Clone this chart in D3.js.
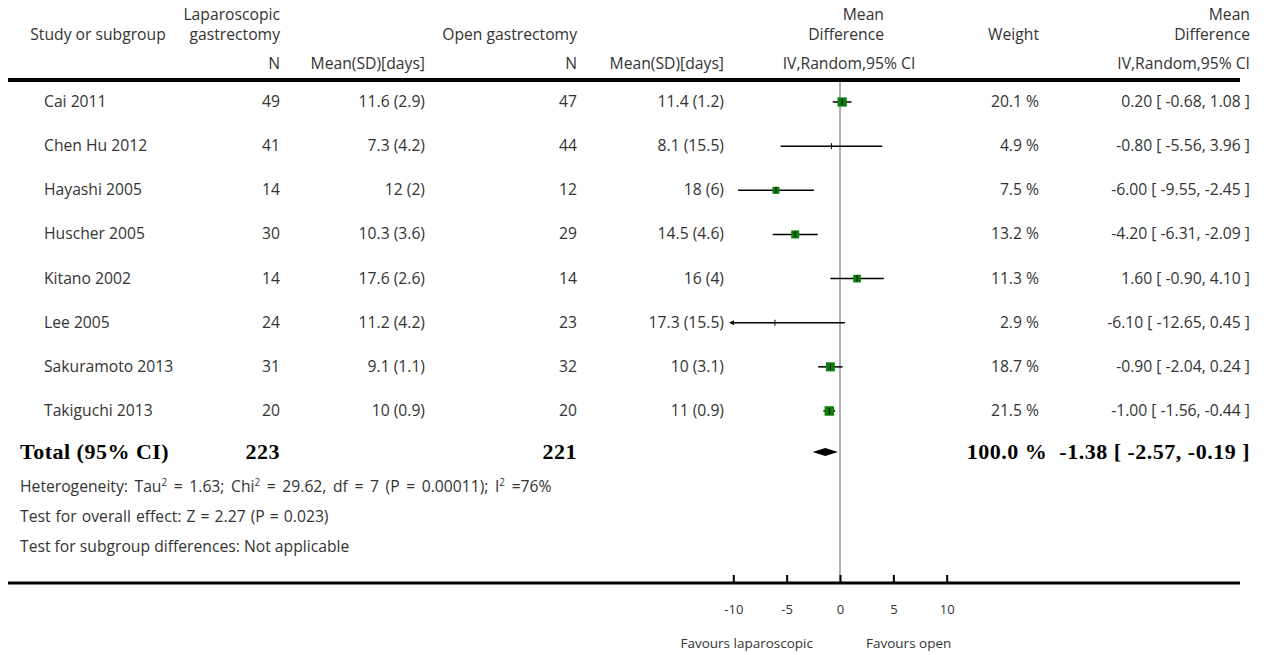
<!DOCTYPE html>
<html>
<head>
<meta charset="utf-8">
<script src="https://cdn.jsdelivr.net/npm/d3@7"></script>
<style>
  body { margin: 0; background: #fff; }
  text { font-family: "Open Sans", Lato, sans-serif; fill: #333; }
  .bold { font-family: "Liberation Serif", "DejaVu Serif", serif; font-weight: bold; fill: #000; white-space: pre; }
</style>
</head>
<body>
<div id="chart"></div>
<script>
// study data
const studies = ['Cai 2011', 'Chen Hu 2012', 'Hayashi 2005', 'Huscher 2005', 'Kitano 2002', 'Lee 2005', 'Sakuramoto 2013', 'Takiguchi 2013'];
const lapN = [49, 41, 14, 30, 14, 24, 31, 20];
const lapMean = [11.6, 7.3, 12, 10.3, 17.6, 11.2, 9.1, 10];
const lapSD = [2.9, 4.2, 2, 3.6, 2.6, 4.2, 1.1, 0.9];
const openN = [47, 44, 12, 29, 14, 23, 32, 20];
const openMean = [11.4, 8.1, 18, 14.5, 16, 17.3, 10, 11];
const openSD = [1.2, 15.5, 6, 4.6, 4, 15.5, 3.1, 0.9];
const md = [0.20, -0.80, -6.00, -4.20, 1.60, -6.10, -0.90, -1.00];
const ciLow = [-0.68, -5.56, -9.55, -6.31, -0.90, -12.65, -2.04, -1.56];
const ciHigh = [1.08, 3.96, -2.45, -2.09, 4.10, 0.45, 0.24, -0.44];
const weights = [20.1, 4.9, 7.5, 13.2, 11.3, 2.9, 18.7, 21.5];

const totalN = [223, 221];
const totalMD = [-1.38, -2.57, -0.19];
const axisTicks = [-10, -5, 0, 5, 10];

const W = 1266, H = 655;
const svg = d3.select('#chart').append('svg')
    .attr('width', W)
    .attr('height', H);

const x = d3.scaleLinear().domain([-10, 10]).range([733.3, 946.7]);
const y = d3.scalePoint().domain(studies).range([102, 411]);
const box = d3.scaleLinear().domain([4.9, 7.5, 21.5]).range([0, 7, 9.5]).clamp(true);

// column right edges
const col = { n1: 280, m1: 425, n2: 577, m2: 724, w: 1039, ci: 1250 };
const FS = 15.7;

function txt(xp, yp, s, anchor, size) {
    return svg.append('text')
        .attr('x', xp).attr('y', yp)
        .attr('text-anchor', anchor || 'end')
        .style('font-size', (size || FS) + 'px')
        .text(s);
}

// hyphen minus, as in the original
const f2 = v => v.toFixed(2);

// header
txt(98, 40, 'Study or subgroup', 'middle');
txt(col.n1, 20, 'Laparoscopic');
txt(col.n1, 40, 'gastrectomy');
txt(col.n2, 40, 'Open gastrectomy');
txt(884, 20, 'Mean');
txt(884, 40, 'Difference');
txt(col.w, 40, 'Weight');
txt(col.ci, 20, 'Mean');
txt(col.ci, 40, 'Difference');
txt(col.n1, 69, 'N');
txt(col.m1, 69, 'Mean(SD)[days]');
txt(col.n2, 69, 'N');
txt(col.m2, 69, 'Mean(SD)[days]');
txt(849, 69, 'IV,Random,95% CI', 'middle');
txt(col.ci, 69, 'IV,Random,95% CI');

svg.append('line')
    .attr('x1', 8).attr('x2', 1240)
    .attr('y1', 80).attr('y2', 80)
    .attr('stroke', '#000').attr('stroke-width', 4);

// zero line
svg.append('line')
    .attr('x1', x(0)).attr('x2', x(0))
    .attr('y1', 82).attr('y2', 583)
    .attr('stroke', '#b0b0b0').attr('stroke-width', 2);

// rows
studies.forEach((s, i) => {
    const yy = y(s);
    txt(44, yy + 5, s, 'start');
    txt(col.n1, yy + 5, lapN[i]);
    txt(col.m1, yy + 5, `${lapMean[i]} (${lapSD[i]})`);
    txt(col.n2, yy + 5, openN[i]);
    txt(col.m2, yy + 5, `${openMean[i]} (${openSD[i]})`);
    txt(col.w, yy + 5, `${weights[i]} %`);
    txt(col.ci, yy + 5, `${f2(md[i])} [ ${f2(ciLow[i])}, ${f2(ciHigh[i])} ]`);
});

svg.append('defs').append('marker')
    .attr('id', 'arrow')
    .attr('viewBox', '0 0 10 10')
    .attr('refX', 2).attr('refY', 5)
    .attr('markerWidth', 3.5).attr('markerHeight', 3.5)
    .attr('orient', 'auto-start-reverse')
    .append('path')
    .attr('d', 'M0,0L10,5L0,10Z')
    .attr('fill', '#000');

const rows = svg.append('g').selectAll('g')
    .data(studies)
    .join('g');

rows.append('line')
    .attr('x1', (d, i) => x(Math.max(ciLow[i], -10)))
    .attr('x2', (d, i) => x(Math.min(ciHigh[i], 10)))
    .attr('y1', d => y(d)).attr('y2', d => y(d))
    .attr('stroke', '#000').attr('stroke-width', 1.5)
    .attr('marker-start', (d, i) => ciLow[i] < -10 ? 'url(#arrow)' : null);

rows.append('rect')
    .attr('x', (d, i) => x(md[i]) - box(weights[i]) / 2)
    .attr('y', (d, i) => y(d) - box(weights[i]) / 2)
    .attr('width', (d, i) => box(weights[i]))
    .attr('height', (d, i) => box(weights[i]))
    .attr('fill', '#0a800a');

rows.append('line')
    .attr('x1', (d, i) => x(md[i])).attr('x2', (d, i) => x(md[i]))
    .attr('y1', d => y(d) - 3).attr('y2', d => y(d) + 3)
    .attr('stroke', '#000').attr('stroke-width', 1);

// total row
const yTot = 452;
function boldTxt(xp, s, anchor) {
    return svg.append('text').attr('class', 'bold')
        .attr('x', xp).attr('y', yTot + 7)
        .attr('text-anchor', anchor)
        .style('font-size', '22px')
        .style('letter-spacing', '0.5px')
        .text(s);
}
boldTxt(20, 'Total (95% CI)', 'start');
boldTxt(col.n1, totalN[0], 'end');
boldTxt(col.n2, totalN[1], 'end');
boldTxt(col.ci, `100.0 %  ${f2(totalMD[0])} [ ${f2(totalMD[1])}, ${f2(totalMD[2])} ]`, 'end');

svg.append('path')
    .attr('d', `M${x(totalMD[1])},${yTot}L${x(totalMD[0])},${yTot - 4}L${x(totalMD[2])},${yTot}L${x(totalMD[0])},${yTot + 4}Z`)
    .attr('fill', '#000');

// footnotes
const het = svg.append('text').attr('x', 20).attr('y', 492).style('font-size', FS + 'px').style('word-spacing', '2.5px');
het.append('tspan').text('Heterogeneity: Tau');
het.append('tspan').attr('dy', -6).style('font-size', '10px').text('2');
het.append('tspan').attr('dy', 6).text(' = 1.63; Chi');
het.append('tspan').attr('dy', -6).style('font-size', '10px').text('2');
het.append('tspan').attr('dy', 6).text(' = 29.62, df = 7 (P = 0.00011); I');
het.append('tspan').attr('dy', -6).style('font-size', '10px').text('2');
het.append('tspan').attr('dy', 6).text(' =76%');
txt(20, 522, 'Test for overall effect: Z = 2.27 (P = 0.023)', 'start').style('word-spacing', '1px');
txt(20, 552, 'Test for subgroup differences: Not applicable', 'start');

// axis
svg.append('line')
    .attr('x1', 8).attr('x2', 1240)
    .attr('y1', 583).attr('y2', 583)
    .attr('stroke', '#000').attr('stroke-width', 3);

const ax = svg.append('g')
    .attr('transform', 'translate(0,583)')
    .call(d3.axisBottom(x).tickValues(axisTicks).tickSize(-8).tickPadding(22).tickFormat(d => String(d)));
ax.select('.domain').remove();
ax.selectAll('.tick line').attr('stroke', '#000').attr('stroke-width', 2);
ax.selectAll('.tick text').style('font-size', '13px').style('font-family', '"Open Sans", sans-serif').attr('fill', '#333');

txt(x(0) - 27, 648, 'Favours laparoscopic', 'end', 13.5);
txt(x(0) + 26, 648, 'Favours open', 'start', 13.5);
</script>
</body>
</html>
